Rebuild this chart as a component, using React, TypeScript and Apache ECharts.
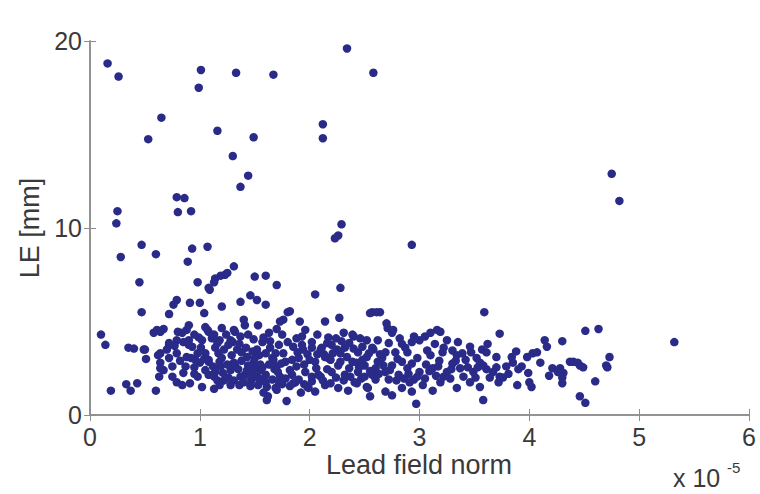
import React, { useEffect, useRef } from "react";
import * as echarts from "echarts";

// x: lead field norm (units of 1e-5), y: LE [mm]
const xTicks = [0, 1, 2, 3, 4, 5, 6];
const yTicks = [0, 10, 20];
const xTitle = "Lead field norm";
const yTitle = "LE [mm]";
const xExponentBase = "x 10";
const xExponent = "-5";

const upperPoints: [number, number][] = [
  [0.16, 18.8], [0.26, 18.1], [1.01, 18.45], [0.99, 17.5], [1.33, 18.3], [1.67, 18.2],
  [2.34, 19.6], [2.58, 18.3], [0.65, 15.9], [0.53, 14.75], [1.16, 15.2], [1.49, 14.85],
  [2.12, 15.55], [2.12, 14.8], [1.3, 13.85], [1.44, 12.8], [1.37, 12.2], [0.79, 11.65],
  [0.86, 11.6], [0.8, 10.85], [0.92, 10.9], [0.25, 10.9], [0.24, 10.25], [2.29, 10.2],
  [2.26, 9.6], [2.23, 9.45], [0.47, 9.1], [0.93, 8.9], [1.07, 9.0], [4.75, 12.9],
  [4.82, 11.45], [2.93, 9.1],
];

const middlePoints: [number, number][] = [
  [0.28, 8.45], [0.6, 8.6], [0.89, 8.2], [1.31, 7.95], [1.25, 7.6], [1.19, 7.45],
  [1.13, 7.1], [1.09, 6.7], [0.98, 7.1], [0.45, 7.1], [1.5, 7.4], [1.6, 7.45],
  [1.7, 6.95], [2.05, 6.45], [2.28, 6.8], [2.57, 5.5], [1.46, 6.4], [1.37, 6.05],
  [1.52, 6.15], [1.6, 5.9], [1.2, 5.8], [1.0, 6.0], [0.91, 6.0], [0.79, 6.15],
  [0.76, 5.9], [0.72, 5.4], [0.47, 5.5], [1.04, 5.45], [1.82, 5.55], [1.76, 5.1],
  [1.91, 5.0], [2.14, 5.0], [2.27, 5.2], [1.4, 5.1], [1.53, 4.8], [1.14, 7.3],
  [1.23, 7.5], [1.08, 6.8], [1.8, 5.5], [1.73, 5.0], [2.55, 5.45], [2.61, 5.5],
  [3.59, 5.5], [2.64, 5.5], [2.7, 4.9],
];

const leftClusterPoints: [number, number][] = [
  [0.1, 4.3], [0.14, 3.75], [0.35, 3.6], [0.4, 3.55], [0.49, 3.5], [0.51, 3.0],
  [0.19, 1.3], [0.33, 1.65], [0.37, 1.3], [0.43, 1.7], [0.6, 1.3], [0.61, 4.55],
  [0.58, 4.4], [0.67, 4.6], [0.72, 3.75], [0.64, 3.3], [0.64, 2.8], [0.63, 2.05],
  [0.67, 2.4], [0.75, 2.05], [0.79, 1.75], [0.84, 1.6], [0.91, 1.7], [0.98, 2.05],
  [1.02, 1.5], [1.13, 1.4], [0.84, 4.4], [0.79, 4.0], [0.88, 4.55], [0.9, 4.0],
  [0.93, 3.65], [0.98, 3.3], [1.02, 4.0], [1.07, 4.55], [1.13, 4.3], [1.16, 3.85],
  [1.22, 3.5], [1.28, 4.0], [1.31, 4.55], [1.37, 4.2], [1.34, 3.5], [1.08, 2.95],
  [1.19, 2.6], [1.28, 2.4], [1.31, 2.8], [1.43, 3.1], [1.49, 2.8], [1.55, 2.4],
  [1.58, 1.85], [1.61, 1.5], [1.61, 0.8], [1.79, 0.75], [1.7, 1.35], [1.52, 2.05],
  [1.67, 2.95], [1.76, 3.3], [1.85, 3.65], [1.94, 3.5], [1.88, 2.6], [2.0, 2.95],
  [2.1, 3.5], [2.16, 3.85], [2.19, 2.95], [2.25, 3.5], [2.31, 4.4], [2.4, 4.2],
  [2.46, 4.1], [2.52, 4.0], [2.34, 3.1], [2.43, 2.8], [2.52, 3.1], [2.58, 3.5],
  [2.1, 2.05], [2.19, 1.7], [2.31, 1.85], [2.43, 1.7], [2.52, 1.5], [1.98, 1.5],
  [1.85, 1.7], [1.73, 2.05], [1.43, 2.4], [1.37, 2.05], [1.31, 1.85], [1.22, 1.85],
  [1.13, 2.05], [0.87, 2.6], [0.88, 3.1], [0.79, 3.3], [1.0, 2.8], [0.5, 3.5],
  [0.64, 4.45], [0.72, 3.85], [0.62, 3.2], [0.64, 2.5], [0.8, 4.45], [0.9, 4.8],
  [0.99, 4.15], [1.08, 4.45], [1.2, 4.65], [1.32, 4.45], [1.41, 4.8], [0.9, 3.75],
  [1.01, 3.6], [1.14, 3.6], [1.26, 3.75], [1.38, 3.35], [0.92, 3.05], [1.08, 2.85],
  [1.2, 3.05], [1.32, 2.65], [1.44, 2.65], [1.14, 2.3], [1.26, 2.0], [1.41, 2.15],
];

const centerClusterPoints: [number, number][] = [
  [1.44, 4.3], [1.57, 3.9], [1.75, 4.3], [1.8, 3.9], [1.93, 3.75], [2.02, 3.9],
  [2.11, 3.6], [2.2, 3.75], [2.32, 3.6], [2.44, 3.35], [2.57, 3.6], [2.69, 3.35],
  [2.78, 3.35], [2.87, 3.6], [1.5, 3.05], [1.66, 3.05], [1.78, 2.85], [1.9, 3.05],
  [2.05, 2.85], [2.17, 3.05], [2.26, 2.65], [2.39, 2.85], [2.5, 2.65], [2.62, 2.85],
  [2.75, 2.65], [2.84, 2.85], [1.48, 2.3], [1.6, 2.15], [1.71, 2.3], [1.84, 2.15],
  [1.96, 2.3], [2.08, 2.15], [2.2, 2.3], [2.32, 2.15], [2.44, 2.3], [2.57, 2.15],
  [2.69, 2.3], [2.81, 2.15], [1.53, 1.6], [1.69, 1.45], [1.87, 1.75], [1.99, 1.45],
  [2.14, 1.6], [2.26, 1.45], [2.41, 1.75], [2.53, 1.45], [2.69, 1.25], [2.84, 1.45],
  [1.62, 1.0], [2.75, 1.05], [2.71, 4.65], [2.75, 4.4], [2.39, 4.3],
  [1.05, 3.3], [1.17, 3.3], [1.29, 3.2], [1.52, 3.5], [1.64, 3.6], [1.7, 2.6],
  [1.82, 2.4], [1.95, 2.7], [2.06, 2.5], [2.13, 3.25], [2.28, 3.3], [2.36, 2.5],
  [2.48, 2.95], [2.6, 2.5], [2.66, 3.05], [2.8, 3.0], [2.72, 1.9], [2.6, 1.9],
  [2.47, 1.95], [2.35, 1.3], [2.05, 1.25], [1.92, 1.2], [1.75, 1.65], [1.58, 1.2],
  [1.47, 1.85], [1.55, 2.7], [1.68, 2.45], [1.93, 4.2], [2.24, 4.1], [2.62, 4.0],
  [2.82, 4.1], [2.55, 1.0], [1.46, 1.55], [1.36, 1.6], [1.05, 2.4], [0.95, 2.55],
  [1.18, 1.6],
];

const denseCorePoints: [number, number][] = [
  [0.85, 3.9], [0.95, 4.3], [1.05, 4.7], [1.11, 4.1], [1.18, 4.0], [1.24, 4.3],
  [1.3, 3.9], [1.36, 3.8], [1.42, 3.6], [1.48, 3.4], [1.54, 3.2], [1.6, 3.3],
  [1.63, 2.7], [1.57, 2.55], [1.5, 2.5], [1.46, 2.05], [1.54, 1.95], [1.6, 1.75],
  [1.66, 1.9], [1.72, 1.75], [1.78, 1.95], [1.82, 1.55], [1.9, 1.9], [1.95, 1.65],
  [2.02, 1.8], [2.02, 2.05], [2.12, 1.85], [2.16, 2.45], [2.24, 2.0], [2.28, 2.85],
  [2.37, 2.05], [2.45, 2.55], [2.5, 2.05], [2.55, 2.35], [2.63, 2.2], [2.67, 2.65],
  [2.73, 2.4], [2.79, 1.85], [2.9, 2.2], [2.95, 1.9], [3.05, 1.95], [3.09, 2.35],
  [3.17, 2.6], [3.22, 2.05], [3.29, 2.45], [3.33, 2.9], [3.44, 2.55], [3.51, 2.0],
  [3.53, 2.55], [3.61, 2.45], [3.7, 2.55], [3.72, 1.75], [3.81, 2.2], [3.84, 3.1],
  [3.9, 2.45], [3.07, 3.45], [3.14, 3.8], [3.22, 3.6], [3.3, 3.45], [3.39, 3.3],
  [3.47, 3.35], [3.57, 3.5], [3.05, 4.2], [2.93, 3.9], [2.84, 3.8], [2.72, 3.85],
  [2.64, 3.25], [2.54, 3.3], [2.48, 3.65], [2.4, 3.55], [2.36, 3.85], [2.29, 3.95],
  [2.21, 3.3], [2.14, 3.1], [2.07, 3.25], [2.02, 3.6], [1.98, 3.25], [1.89, 3.35],
  [1.84, 2.95], [1.74, 2.75], [1.69, 3.3], [1.72, 3.75], [1.64, 3.95], [1.58, 4.15],
  [1.49, 4.05], [1.88, 4.1], [2.07, 4.3], [2.17, 4.15], [1.96, 4.55], [1.7, 4.6],
  [1.63, 4.4], [1.25, 2.7], [1.18, 2.85], [1.12, 2.6], [1.04, 3.0], [0.96, 2.95],
  [1.38, 2.9], [1.35, 2.45], [1.21, 2.25], [1.08, 2.15], [0.95, 2.2], [1.16, 1.85],
  [1.28, 1.6], [1.4, 1.75], [0.85, 2.25], [0.75, 2.6], [0.72, 3.05], [0.82, 2.9],
  [0.7, 3.5], [0.77, 3.7],
];

const rightClusterPoints: [number, number][] = [
  [3.73, 4.35], [4.51, 4.5], [4.63, 4.6], [4.3, 3.95], [5.32, 3.9], [4.14, 4.0],
  [4.16, 3.65], [4.73, 3.1], [4.7, 2.65], [4.6, 1.8], [4.46, 1.0], [4.51, 0.65],
  [4.4, 2.85], [4.46, 2.65], [4.3, 1.7], [4.31, 2.25], [4.21, 2.5], [4.1, 2.8],
  [4.03, 3.3], [3.98, 3.1], [3.99, 2.25], [4.02, 1.5], [3.89, 1.6], [3.85, 2.8],
  [3.79, 2.6], [3.73, 2.05], [3.7, 3.1], [3.58, 0.8], [3.55, 1.5], [2.97, 0.6],
  [3.16, 4.55], [3.1, 4.4], [3.19, 4.45], [3.0, 4.0], [3.25, 4.0], [3.46, 3.65],
  [2.76, 4.55], [2.95, 4.2], [2.89, 3.35], [2.98, 3.05], [3.1, 3.2], [3.21, 3.35],
  [3.34, 3.2], [3.52, 3.05], [3.61, 3.35], [4.07, 3.35], [2.89, 2.5], [3.0, 2.3],
  [3.12, 2.5], [3.25, 2.3], [3.37, 2.5], [3.49, 2.3], [3.58, 2.65], [3.67, 2.3],
  [3.76, 2.0], [4.0, 1.75], [2.91, 1.75], [3.03, 1.6], [3.19, 1.75], [3.34, 1.45],
  [3.46, 1.75], [4.28, 2.5], [4.37, 2.85], [4.44, 2.8], [4.49, 2.55], [4.71, 2.55],
  [4.26, 2.3], [4.3, 2.0], [2.93, 2.75], [3.06, 2.7], [3.18, 2.9], [3.3, 2.75],
  [3.42, 2.95], [3.55, 2.8], [3.64, 2.0], [3.4, 2.05], [3.28, 1.95], [3.15, 2.1],
  [2.98, 2.05], [2.86, 1.95], [3.35, 3.9], [3.62, 3.8], [3.88, 3.4], [3.93, 2.6],
  [4.18, 2.1], [3.12, 1.3], [2.93, 1.25],
];

const allPoints = [
  ...upperPoints,
  ...middlePoints,
  ...leftClusterPoints,
  ...centerClusterPoints,
  ...denseCorePoints,
  ...rightClusterPoints,
];

const FONT = "'Liberation Sans', Arial, Helvetica, sans-serif";
const AXIS_GRAY = "#8c8c8c";
const TEXT_COLOR = "#3a3a3a";
const MARKER = "#2a2b88";

export default function App() {
  const ref = useRef<HTMLDivElement>(null);

  useEffect(() => {
    if (!ref.current) return;
    const chart = echarts.init(ref.current, null, { renderer: "svg" });
    const axisLine = { show: true, lineStyle: { color: AXIS_GRAY, width: 1.5 } };
    const tick = { show: true, inside: true, length: 6, lineStyle: { color: AXIS_GRAY, width: 1 } };
    const label = { fontFamily: FONT, fontSize: 25, color: TEXT_COLOR };
    chart.setOption({
      animation: false,
      backgroundColor: "#ffffff",
      grid: {
        left: 90,
        right: 11,
        top: 41,
        bottom: 79,
        containLabel: false,
        outerBoundsMode: "none",
      },
      xAxis: [
        {
          type: "value",
          min: xTicks[0],
          max: xTicks[xTicks.length - 1],
          interval: 1,
          position: "bottom",
          axisLine,
          axisTick: tick,
          splitLine: { show: false },
          axisLabel: { ...label, margin: 9, formatter: (v: number) => String(v) },
        },
        {
          type: "value",
          min: xTicks[0],
          max: xTicks[xTicks.length - 1],
          interval: 1,
          position: "top",
          axisLine,
          axisTick: tick,
          splitLine: { show: false },
          axisLabel: { show: false },
        },
      ],
      yAxis: [
        {
          type: "value",
          min: yTicks[0],
          max: yTicks[yTicks.length - 1],
          interval: 10,
          position: "left",
          axisLine,
          axisTick: tick,
          splitLine: { show: false },
          axisLabel: { ...label, margin: 8, formatter: (v: number) => String(v) },
        },
        {
          type: "value",
          min: yTicks[0],
          max: yTicks[yTicks.length - 1],
          interval: 10,
          position: "right",
          axisLine,
          axisTick: tick,
          splitLine: { show: false },
          axisLabel: { show: false },
        },
      ],
      series: [
        {
          type: "scatter",
          xAxisIndex: 0,
          yAxisIndex: 0,
          data: allPoints,
          symbol: "circle",
          symbolSize: 8.5,
          itemStyle: { color: MARKER, opacity: 1 },
          emphasis: { disabled: true },
        },
      ],
      graphic: [
        {
          type: "text",
          x: 419,
          y: 465,
          style: {
            text: xTitle,
            fontFamily: FONT,
            fontSize: 27,
            fill: TEXT_COLOR,
            align: "center",
            verticalAlign: "middle",
          },
        },
        {
          type: "text",
          x: 30,
          y: 228,
          rotation: Math.PI / 2,
          style: {
            text: yTitle,
            fontFamily: FONT,
            fontSize: 27,
            fill: TEXT_COLOR,
            align: "center",
            verticalAlign: "middle",
          },
        },
        {
          type: "text",
          x: 673,
          y: 478,
          style: {
            text: xExponentBase,
            fontFamily: FONT,
            fontSize: 25,
            fill: TEXT_COLOR,
            align: "left",
            verticalAlign: "middle",
          },
        },
        {
          type: "text",
          x: 727,
          y: 467,
          style: {
            text: xExponent,
            fontFamily: FONT,
            fontSize: 15,
            fill: TEXT_COLOR,
            align: "left",
            verticalAlign: "middle",
          },
        },
      ],
    });
    return () => chart.dispose();
  }, []);

  return <div ref={ref} style={{ width: 760, height: 494, position: "absolute", left: 0, top: 0 }} />;
}
